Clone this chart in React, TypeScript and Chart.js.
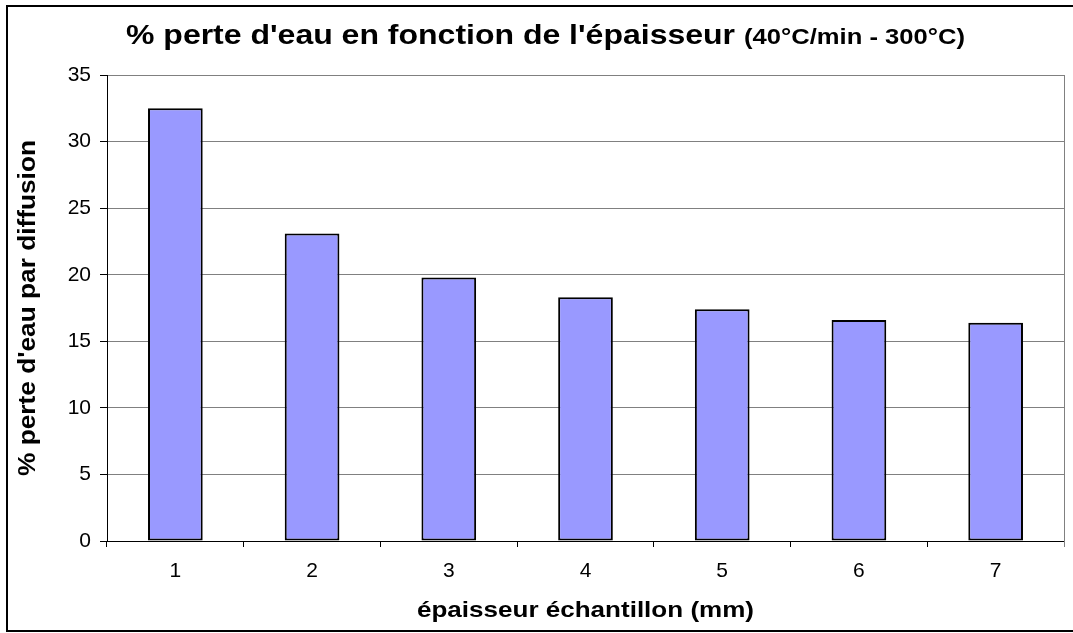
import React, { useEffect, useRef } from "react";
import { Chart, registerables } from "chart.js";

Chart.register(...registerables);

const categories = ["1", "2", "3", "4", "5", "6", "7"];
const lossValues = [32.5, 23.1, 19.8, 18.3, 17.4, 16.6, 16.4];
const titleMain = "% perte d'eau en fonction de l'épaisseur";
const titleSub = "(40°C/min - 300°C)";
const yTitle = "% perte d'eau par diffusion";
const xTitle = "épaisseur échantillon (mm)";

const FONT = "'Liberation Sans', Arial, sans-serif";

function drawFitted(
  ctx: CanvasRenderingContext2D,
  text: string,
  x: number,
  y: number,
  targetW: number,
  font: string,
  align: CanvasTextAlign,
  baseline: CanvasTextBaseline,
  rotate = 0
) {
  ctx.save();
  ctx.font = font;
  const w = ctx.measureText(text).width;
  const sx = targetW / w;
  ctx.translate(x, y);
  if (rotate) ctx.rotate(rotate);
  ctx.scale(sx, 1);
  ctx.textAlign = align;
  ctx.textBaseline = baseline;
  ctx.fillStyle = "#000";
  ctx.fillText(text, 0, 0);
  ctx.restore();
}

const decorPlugin = {
  id: "decor",
  afterDraw(chart: any) {
    const ctx = chart.ctx as CanvasRenderingContext2D;
    const ca = chart.chartArea;
    ctx.save();
    ctx.strokeStyle = "#808080";
    ctx.lineWidth = 1;
    ctx.beginPath();
    ctx.moveTo(ca.right + 0.5, ca.top);
    ctx.lineTo(ca.right + 0.5, ca.bottom + 6);
    ctx.stroke();
    ctx.strokeStyle = "#000";
    ctx.lineWidth = 2;
    ctx.strokeRect(7, 6, 1090, 625);
    ctx.restore();
    drawFitted(ctx, titleMain, 126, 44, 609, `bold 28px ${FONT}`, "left", "alphabetic");
    drawFitted(ctx, titleSub, 744, 44, 221, `bold 22px ${FONT}`, "left", "alphabetic");
    drawFitted(ctx, yTitle, 29, 308, 336, `bold 23px ${FONT}`, "center", "middle", -Math.PI / 2);
    drawFitted(ctx, xTitle, (ca.left + ca.right) / 2, 617, 337, `bold 22px ${FONT}`, "center", "alphabetic");
  },
};

export default function App() {
  const ref = useRef<HTMLCanvasElement | null>(null);
  useEffect(() => {
    if (!ref.current) return;
    const chart = new Chart(ref.current, {
      type: "bar",
      data: {
        labels: categories,
        datasets: [
          {
            data: lossValues,
            backgroundColor: "#9999ff",
            borderColor: "#000000",
            borderWidth: 2,
            borderSkipped: false,
            barPercentage: 0.4,
            categoryPercentage: 1,
          },
        ],
      },
      options: {
        responsive: false,
        animation: false,
        layout: { padding: { left: 0, top: 75, right: 9, bottom: 0 } },
        plugins: {
          legend: { display: false },
          title: { display: false },
          tooltip: { enabled: false },
        },
        scales: {
          x: {
            offset: true,
            grid: {
              offset: true,
              drawOnChartArea: false,
              drawTicks: true,
              tickLength: 6,
              tickColor: "#000",
            },
            border: { color: "#000", width: 1 },
            ticks: {
              color: "#000",
              padding: 12,
              font: { family: FONT, size: 21 },
            },
            afterFit(scale: any) {
              scale.height = 92;
            },
          },
          y: {
            min: 0,
            max: 35,
            ticks: {
              stepSize: 5,
              color: "#000",
              padding: 9,
              font: { family: FONT, size: 21 },
            },
            grid: {
              color: (c: any) => (c.tick && c.tick.value === 0 ? "#000" : "#808080"),
              tickColor: "#000",
              tickLength: 7,
              lineWidth: 1,
            },
            border: { color: "#000", width: 1 },
            afterFit(scale: any) {
              scale.width = 107;
            },
          },
        },
      },
      plugins: [decorPlugin],
    });
    return () => chart.destroy();
  }, []);
  return (
    <div style={{ position: "absolute", left: 0, top: 0, width: 1073, height: 633, background: "#fff" }}>
      <canvas ref={ref} width={1073} height={633} />
    </div>
  );
}
